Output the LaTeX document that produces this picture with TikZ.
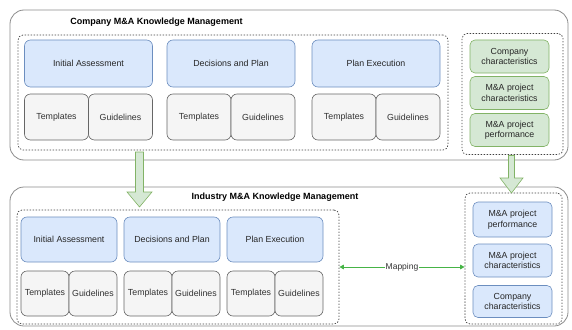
\documentclass[tikz,border=0pt]{standalone}
\usepackage{fontspec}
\setmainfont{Liberation Sans}
\usetikzlibrary{arrows.meta,calc}
\definecolor{bluefill}{HTML}{DAE8FC}
\definecolor{bluedraw}{HTML}{6C8EBF}
\definecolor{grayfill}{HTML}{F5F5F5}
\definecolor{graydraw}{HTML}{666666}
\definecolor{greenfill}{HTML}{D5E8D4}
\definecolor{greendraw}{HTML}{82B366}
\definecolor{mapgreen}{RGB}{70,180,70}
\definecolor{outerdraw}{HTML}{8C8C8C}
\tikzset{
  base/.style={font=\fontsize{8.8}{10.5}\selectfont, align=center, inner sep=1pt},
  outerbox/.style={draw=outerdraw, line width=0.8pt, rounded corners=14pt, minimum width=558pt, anchor=center},
  dashbox/.style={draw=black!75, line width=0.7pt, dash pattern=on 1.4pt off 1.6pt, rounded corners=5pt},
  phase/.style={base, draw=bluedraw, fill=bluefill, rounded corners=6pt, line width=0.6pt, text=black!85},
  doc/.style={base, draw=graydraw, fill=grayfill, rounded corners=6pt, line width=0.6pt, text=black!80},
  gchar/.style={base, draw=greendraw, fill=greenfill, rounded corners=5pt, line width=0.6pt, minimum width=79pt, minimum height=33pt, text=black!85},
  bchar/.style={base, draw=bluedraw, fill=bluefill, rounded corners=5pt, line width=0.6pt, minimum width=79pt, minimum height=33pt, text=black!85},
  titletxt/.style={font=\fontsize{9}{11}\selectfont\bfseries, inner sep=0pt},
  blockarrow/.style={draw=greendraw, fill=greenfill, line width=0.6pt},
  maparrow/.style={draw=mapgreen, line width=0.9pt, {Triangle[length=4.5pt,width=4.5pt]}-{Triangle[length=4.5pt,width=4.5pt]}},
}
\begin{document}
\begin{tikzpicture}[x=1pt,y=-1pt]
\useasboundingbox (0,0) rectangle (572,329);
% ---------- top ----------
\node[outerbox, minimum height=150pt] (otop) at (289,85) {};
\node[titletxt] (ttop) at (156.5,22.5) {Company M\&A Knowledge Management};
\node[dashbox, minimum width=430pt, minimum height=115pt] (ldtop) at (233,92.5) {};
\node[dashbox, minimum width=101pt, minimum height=121pt] (rdtop) at (512.5,94) {};
% phases top
\node[phase, minimum width=128pt, minimum height=47pt] (ia1) at (88.5,63.5) {Initial Assessment};
\node[phase, minimum width=128pt, minimum height=47pt] (dp1) at (231,63.5) {Decisions and Plan};
\node[phase, minimum width=128pt, minimum height=47pt] (pe1) at (376,63.5) {Plan Execution};
\node[doc, minimum width=64pt, minimum height=46pt] (t1) at (56.5,117) {Templates};
\node[doc, minimum width=64pt, minimum height=46pt] (g1) at (120.5,117) {Guidelines};
\node[doc, minimum width=64pt, minimum height=46pt] (t2) at (199,117) {Templates};
\node[doc, minimum width=64pt, minimum height=46pt] (g2) at (263,117) {Guidelines};
\node[doc, minimum width=64pt, minimum height=46pt] (t3) at (344,117) {Templates};
\node[doc, minimum width=64pt, minimum height=46pt] (g3) at (408,117) {Guidelines};
% characteristics top
\node[gchar] (cc1) at (509.5,56.5) {Company\\characteristics};
\node[gchar] (pc1) at (509.5,93) {M\&A project\\characteristics};
\node[gchar] (pp1) at (509.5,130) {M\&A project\\performance};
% ---------- bottom ----------
\node[outerbox, minimum height=139pt] (obot) at (289,256.5) {};
\node[titletxt] (tbot) at (275,197.5) {Industry M\&A Knowledge Management};
\node[dashbox, minimum width=322pt, minimum height=114pt] (ldbot) at (178,267) {};
\node[dashbox, minimum width=97pt, minimum height=131pt] (rdbot) at (513.5,258.5) {};
\node[phase, minimum width=96pt, minimum height=45pt] (ia2) at (69,239.5) {Initial Assessment};
\node[phase, minimum width=96pt, minimum height=45pt] (dp2) at (172,239.5) {Decisions and Plan};
\node[phase, minimum width=96pt, minimum height=45pt] (pe2) at (275,239.5) {Plan Execution};
\node[doc, minimum width=48pt, minimum height=45pt] (t4) at (45,293.5) {Templates};
\node[doc, minimum width=48pt, minimum height=45pt] (g4) at (93,293.5) {Guidelines};
\node[doc, minimum width=48pt, minimum height=45pt] (t5) at (148,293.5) {Templates};
\node[doc, minimum width=48pt, minimum height=45pt] (g5) at (196,293.5) {Guidelines};
\node[doc, minimum width=48pt, minimum height=45pt] (t6) at (251,293.5) {Templates};
\node[doc, minimum width=48pt, minimum height=45pt] (g6) at (299,293.5) {Guidelines};
\node[bchar, minimum height=35pt] (pp2) at (512.5,219.5) {M\&A project\\performance};
\node[bchar] (pc2) at (512.5,260.5) {M\&A project\\characteristics};
\node[bchar, minimum height=32pt] (cc2) at (512.5,301.5) {Company\\characteristics};
% ---------- block arrows ----------
\coordinate (la) at (139.5,152);
\draw[blockarrow] ($(la)+(-4,0)$) -- ($(la)+(4,0)$) -- ($(la)+(4,40)$) -- ($(la)+(12.5,40)$)
  -- ($(la)+(0,55)$) -- ($(la)+(-12.5,40)$) -- ($(la)+(-4,40)$) -- cycle;
\coordinate (ra) at (511.5,155.5);
\draw[blockarrow] ($(ra)+(-3,0)$) -- ($(ra)+(3,0)$) -- ($(ra)+(3,22.5)$) -- ($(ra)+(11.5,22.5)$)
  -- ($(ra)+(0,37.5)$) -- ($(ra)+(-11.5,22.5)$) -- ($(ra)+(-3,22.5)$) -- cycle;
% ---------- mapping ----------
\draw[maparrow] (ldbot.east) -- node[base, fill=white, inner sep=0.5pt, font=\fontsize{8.5}{10}\selectfont, text=black!80] (maplbl) {Mapping} (ldbot.east -| rdbot.west);
\end{tikzpicture}
\end{document}
